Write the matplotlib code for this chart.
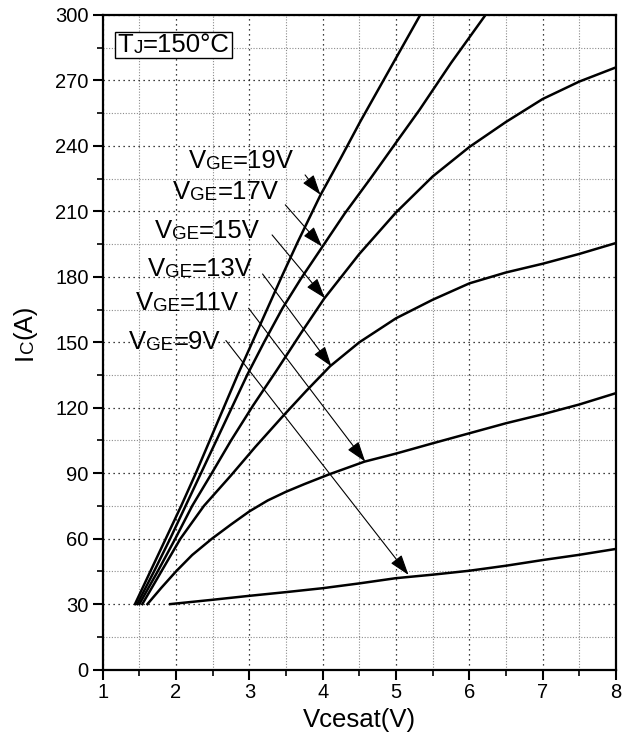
import matplotlib
matplotlib.use('Agg')
import matplotlib.pyplot as plt
from matplotlib.patches import Rectangle
from matplotlib.transforms import Bbox

plt.rcParams['font.family'] = ['Liberation Sans', 'DejaVu Sans']

# valori (Vcesat [V], Ic [A])
v19 = [1.44, 1.65, 1.86, 2.07, 2.27, 2.46, 2.65, 2.84, 3.04, 3.24, 3.44, 3.66, 3.97, 4.24, 4.51, 4.92, 5.33]
i19 = [30, 45, 60, 75, 90, 105, 120, 135, 150, 165, 180, 196, 217.5, 234, 251, 275.5, 300]

v17 = [1.47, 1.70, 1.92, 2.13, 2.34, 2.55, 2.76, 2.97, 3.20, 3.45, 3.70, 3.99, 4.30, 4.65, 5.00, 5.32, 5.75, 6.22]
i17 = [30, 45, 60, 75, 90, 105, 120, 135, 150, 165.5, 179, 193.5, 209, 225, 241.5, 256.5, 278, 300]

v15 = [1.50, 1.75, 1.99, 2.22, 2.47, 2.75, 3.05, 3.37, 3.70, 4.02, 4.50, 5.00, 5.50, 6.00, 6.50, 7.00, 7.50, 8.00]
i15 = [30, 45, 60, 75, 89, 105, 121, 137, 154, 170, 190.5, 209.5, 226, 239.5, 251, 261.5, 269.5, 276]

v13 = [1.54, 1.80, 2.06, 2.38, 2.75, 3.08, 3.44, 3.77, 4.10, 4.50, 5.00, 5.50, 6.00, 6.50, 7.00, 7.50, 8.00]
i13 = [30, 45, 60, 75, 89, 102, 115.5, 127.5, 139, 150, 161, 169.5, 177, 182, 186, 190.5, 195.5]

v11 = [1.61, 1.80, 2.00, 2.22, 2.49, 2.75, 3.00, 3.25, 3.50, 3.75, 4.09, 4.57, 5.00, 5.50, 6.00, 6.50, 7.00, 7.50, 8.00]
i11 = [30, 37.5, 45, 52.5, 60, 66.5, 72.5, 77.5, 81.5, 85, 89.5, 95.3, 99, 103.7, 108.3, 112.9, 117, 121.5, 126.7]

v9 = [1.92, 2.50, 3.00, 3.50, 4.00, 4.50, 5.00, 5.50, 6.00, 6.50, 7.00, 7.50, 8.00]
i9 = [30, 32, 33.8, 35.5, 37.3, 39.5, 41.9, 43.5, 45.3, 47.6, 50.2, 52.6, 55.3]

curves = [(v19, i19), (v17, i17), (v15, i15), (v13, i13), (v11, i11), (v9, i9)]

# etichette: testo VGE, posizione testo, inizio freccia, punta freccia
vge_labels = ['19V', '17V', '15V', '13V', '11V', '9V']
label_pos = [(2.17, 229.8), (1.96, 215.6), (1.71, 197.7), (1.61, 180.4), (1.45, 164.8), (1.36, 146.8)]
arrow_from = [(3.76, 226.7), (3.49, 213.0), (3.31, 199.2), (3.18, 181.3), (2.99, 165.6), (2.68, 150.8)]
arrow_to = [(3.97, 217.6), (3.99, 193.9), (4.03, 170.2), (4.12, 138.9), (4.58, 95.3), (5.17, 43.4)]

xticks = [1, 2, 3, 4, 5, 6, 7, 8]
yticks = [0, 30, 60, 90, 120, 150, 180, 210, 240, 270, 300]

fig = plt.figure(figsize=(6.32, 7.42), dpi=100)
ax = fig.add_axes([0.1625, 0.0976, 0.8122, 0.8822])

for v, i in curves:
    ax.plot(v, i, color='black', lw=1.8, solid_joinstyle='round', zorder=3)

ax.set_xlim(1, 8)
ax.set_ylim(0, 300)
ax.set_xticks(xticks)
ax.set_yticks(yticks)
ax.set_xticks([x + 0.5 for x in xticks[:-1]], minor=True)
ax.set_yticks([y + 15 for y in yticks[:-1]], minor=True)

ax.grid(which='major', color='black', linestyle=(0, (1, 3)), lw=0.9)
ax.grid(which='minor', color='#8c8c8c', linestyle=(0, (1, 1.5)), lw=0.8)
ax.set_axisbelow(True)

for sp in ax.spines.values():
    sp.set_linewidth(1.6)
ax.tick_params(which='major', direction='out', length=7, width=1.5, labelsize=14.5, pad=3)
ax.tick_params(which='minor', direction='out', length=4, width=1.2)


def rich_text(ax, x, y, parts, **kw):
    # testo con pezzi di dimensioni diverse sulla stessa riga
    arts = []
    s, size = parts[0]
    prev = ax.text(x, y, s, fontsize=size, ha='left', va='baseline', **kw)
    arts.append(prev)
    for s, size in parts[1:]:
        prev = ax.annotate(s, xy=(1, 0), xycoords=prev, fontsize=size,
                           ha='left', va='bottom')
        arts.append(prev)
    return arts


big = 18.5
small = 13.5
for lab, (tx, ty), p0, p1 in zip(vge_labels, label_pos, arrow_from, arrow_to):
    rich_text(ax, tx, ty, [('V', big), ('GE', small), ('=' + lab, big)])
    ax.annotate('', xy=p1, xytext=p0,
                arrowprops=dict(arrowstyle='-|>,head_length=0.9,head_width=0.3',
                                color='black', lw=0.8, shrinkA=0, shrinkB=0,
                                mutation_scale=14), zorder=4)

# TJ nel riquadro
tj = rich_text(ax, 1.205, 283.2, [('T', big), ('J', small), ('=150°C', big)])

# etichette assi
xl = ax.text(0.5, -0.058, 'Vcesat(V)', transform=ax.transAxes, fontsize=18.5,
             ha='center', va='top')
yl1 = ax.text(-0.1286, 0.473, 'I', transform=ax.transAxes, fontsize=18.5,
              rotation=90, ha='right', va='bottom')
yl2 = ax.annotate('C', xy=(1, 1), xycoords=yl1, fontsize=13.5, rotation=90,
                  ha='right', va='bottom')
yl3 = ax.annotate('(A)', xy=(1, 1), xycoords=yl2, fontsize=18.5, rotation=90,
                  ha='right', va='bottom')

fig.canvas.draw()
r = fig.canvas.get_renderer()
bb = Bbox.union([a.get_window_extent(r) for a in tj])
inv = ax.transAxes.inverted()
(x0, y0) = inv.transform((bb.x0 - 3, bb.y0 - 1))
(x1, y1) = inv.transform((bb.x1 + 2, bb.y1 + 1))
ax.add_patch(Rectangle((x0, y0), x1 - x0, y1 - y0, transform=ax.transAxes,
                       facecolor='white', edgecolor='black', lw=1.0, zorder=4))
for a in tj:
    a.set_zorder(5)

fig.savefig('out.png', dpi=100)
